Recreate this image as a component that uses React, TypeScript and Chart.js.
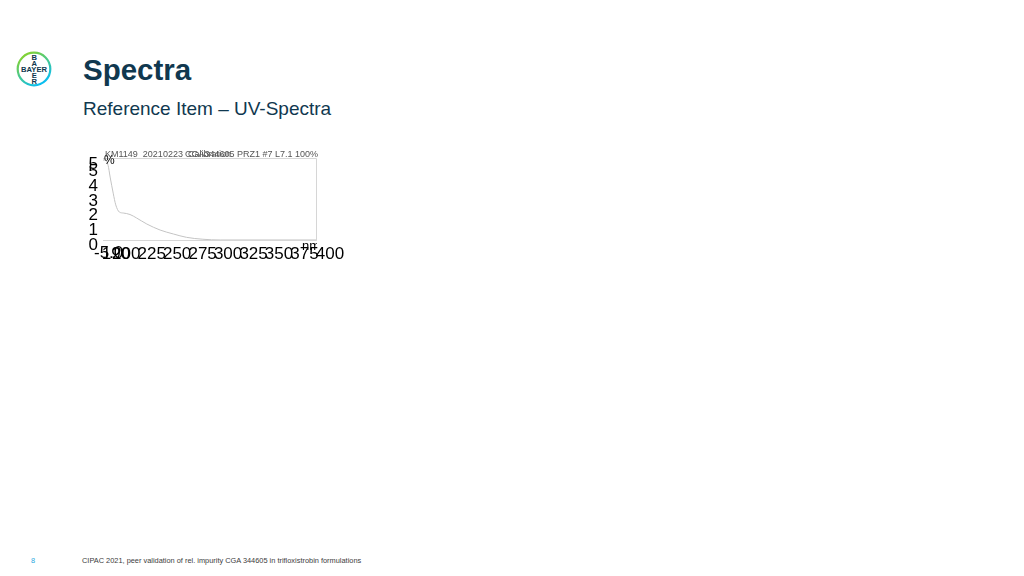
import React, { useEffect, useRef } from "react";
import { Chart, registerables } from "chart.js";

Chart.register(...registerables);

// ---- data ----
const wavelengthNm = [190, 192, 195, 197, 200, 202.5, 206, 210, 216.5, 223, 233, 246, 259, 272, 288, 305, 400];
const absorbancePct = [5.46, 5.46, 5.1, 4.3, 3.2, 2.4, 1.91, 1.84, 1.74, 1.5, 1.09, 0.68, 0.41, 0.18, 0.05, 0, 0];
const xTickValues = [190, 200, 225, 250, 275, 300, 325, 350, 375, 400];
const yTickValues = [0, 1, 2, 3, 4, 5];
const headerLeft = "KM1149  20210223  Calibration";
const headerRight = "CGA344605 PRZ1 #7 L7.1 100%";
const yMinLabel = "-5.0";
const yUnitLabel = "%";
const xUnitLabel = "nm";

const FONT = "'Liberation Sans', Arial, Helvetica, sans-serif";

const extrasPlugin = {
  id: "extras",
  afterDraw(chart: any) {
    const { ctx, chartArea } = chart;
    const { left, right, top, bottom } = chartArea;
    ctx.save();
    // frame
    ctx.strokeStyle = "#d6d6d6";
    ctx.lineWidth = 1;
    ctx.beginPath();
    ctx.moveTo(left, top + 0.5);
    ctx.lineTo(right - 0.5, top + 0.5);
    ctx.lineTo(right - 0.5, bottom - 0.5);
    ctx.lineTo(left, bottom - 0.5);
    ctx.stroke();
    // header
    ctx.fillStyle = "#555";
    ctx.font = `9px ${FONT}`;
    ctx.textBaseline = "alphabetic";
    ctx.textAlign = "left";
    ctx.fillText(headerLeft, left + 2, top - 1);
    ctx.fillText(headerRight, left + 82, top - 1);
    // extra y labels
    ctx.fillStyle = "#000";
    ctx.font = `17px ${FONT}`;
    ctx.textAlign = "right";
    ctx.textBaseline = "middle";
    ctx.fillText("5", left - 5, top + 6);
    ctx.textAlign = "left";
    ctx.fillText(yMinLabel, left - 9, bottom + 12);
    ctx.font = `12px ${FONT}`;
    ctx.fillText(yUnitLabel, left + 1, top + 3);
    // x unit, clipped at frame
    ctx.beginPath();
    ctx.rect(left, bottom, right - left, 20);
    ctx.clip();
    ctx.font = `13px ${FONT}`;
    ctx.textAlign = "right";
    ctx.textBaseline = "alphabetic";
    ctx.fillText(xUnitLabel, right + 3, bottom + 9);
    ctx.restore();
  },
};

function SpectrumChart() {
  const ref = useRef<HTMLCanvasElement | null>(null);
  useEffect(() => {
    if (!ref.current) return;
    const chart = new Chart(ref.current, {
      type: "line",
      data: {
        datasets: [
          {
            data: wavelengthNm.map((x, i) => ({ x, y: absorbancePct[i] })),
            borderColor: "#c4c4c4",
            borderWidth: 1,
            pointRadius: 0,
            cubicInterpolationMode: "monotone",
            fill: false,
          },
        ],
      },
      options: {
        animation: false,
        responsive: false,
        maintainAspectRatio: false,
        layout: { padding: { left: 0, top: 18, right: 43, bottom: 0 } },
        plugins: { legend: { display: false }, tooltip: { enabled: false }, title: { display: false } },
        scales: {
          x: {
            type: "linear",
            min: 190,
            max: 400,
            afterBuildTicks: (s: any) => {
              s.ticks = xTickValues.map((v) => ({ value: v }));
            },
            afterFit: (s: any) => {
              s.height = 29;
            },
            grid: { display: false, drawTicks: false },
            border: { display: false },
            ticks: {
              autoSkip: false,
              maxRotation: 0,
              minRotation: 0,
              padding: 3,
              labelOffset: 13,
              color: "#000",
              font: { size: 17, family: FONT },
              callback: (v: any) => String(v),
            },
          },
          y: {
            type: "linear",
            min: -0.07,
            max: 5.6,
            afterBuildTicks: (s: any) => {
              s.ticks = yTickValues.map((v) => ({ value: v }));
            },
            afterFit: (s: any) => {
              s.width = 23;
            },
            grid: { display: false, drawTicks: false },
            border: { display: false },
            ticks: {
              autoSkip: false,
              padding: 5,
              labelOffset: 5,
              color: "#000",
              font: { size: 17, family: FONT },
              callback: (v: any) => String(v),
            },
          },
        },
      },
      plugins: [extrasPlugin],
    } as any);
    return () => chart.destroy();
  }, []);
  return <canvas ref={ref} width={280} height={130} style={{ width: 280, height: 130, display: "block" }} />;
}

function Logo() {
  return (
    <svg width="40" height="40" viewBox="0 0 40 40" style={{ position: "absolute", left: 13.5, top: 48.5 }}>
      <defs>
        <linearGradient id="bayerRing" x1="0.2" y1="0" x2="0.8" y2="1">
          <stop offset="0" stopColor="#89d329" />
          <stop offset="1" stopColor="#00bcff" />
        </linearGradient>
      </defs>
      <circle cx="20" cy="20" r="16.3" fill="none" stroke="url(#bayerRing)" strokeWidth="2.2" />
      <g fontFamily={FONT} fontWeight="bold" fontSize="7.6" fill="#10384f" textAnchor="middle">
        <text x="20" y="22.7">BAYER</text>
        <text x="20.3" y="10.6">B</text>
        <text x="20.3" y="16.6">A</text>
        <text x="20.3" y="28.8">E</text>
        <text x="20.3" y="34.8">R</text>
      </g>
    </svg>
  );
}

export default function App() {
  return (
    <div style={{ position: "absolute", left: 0, top: 0, width: 1024, height: 576, background: "#fff", overflow: "hidden", fontFamily: FONT }}>
      <Logo />
      <div style={{ position: "absolute", left: 83, top: 55, fontSize: 29.5, lineHeight: "29.5px", fontWeight: "bold", color: "#10384f", whiteSpace: "nowrap" }}>
        Spectra
      </div>
      <div style={{ position: "absolute", left: 83, top: 98.5, fontSize: 19, lineHeight: "19px", color: "#10384f", whiteSpace: "nowrap" }}>
        Reference Item – UV-Spectra
      </div>
      <div style={{ position: "absolute", left: 80, top: 140 }}>
        <SpectrumChart />
      </div>
      <div style={{ position: "absolute", left: 31, top: 557, fontSize: 7.4, lineHeight: "7.4px", color: "#29a8e0" }}>8</div>
      <div style={{ position: "absolute", left: 82, top: 557, fontSize: 7.4, lineHeight: "7.4px", color: "#3c3c3c", whiteSpace: "nowrap" }}>
        CIPAC 2021, peer validation of rel. impurity CGA 344605 in trifloxistrobin formulations
      </div>
    </div>
  );
}
